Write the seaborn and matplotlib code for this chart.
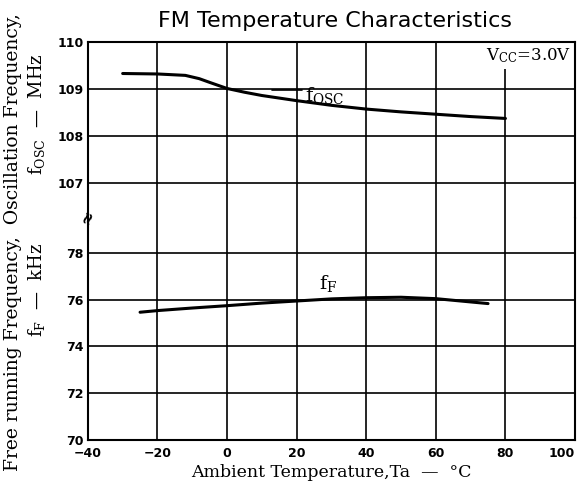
import matplotlib
matplotlib.use("Agg")
import matplotlib.pyplot as plt
import seaborn as sns

# Values
temp_osc = [-30, -20, -12, -8, -5, 0, 5, 10, 20, 30, 40, 50, 60, 70, 80]
f_osc = [109.33, 109.32, 109.29, 109.22, 109.14, 109.01, 108.93, 108.86, 108.75,
         108.65, 108.57, 108.51, 108.46, 108.41, 108.37]
temp_free = [-25, -20, -10, 0, 10, 20, 30, 40, 50, 60, 70, 75]
f_free = [75.46, 75.53, 75.64, 75.74, 75.85, 75.94, 76.03, 76.08, 76.1, 76.04, 75.9, 75.83]

x_ticks = [-40, -20, 0, 20, 40, 60, 80, 100]
x_labels = ["\u221240", "\u221220", "0", "20", "40", "60", "80", "100"]
osc_ticks = [107, 108, 109, 110]
free_ticks = [70, 72, 74, 76, 78]

sns.set_style("white")
plt.rcParams["font.family"] = ["DejaVu Sans"]
plt.rcParams["mathtext.fontset"] = "dejavuserif"
plt.rcParams["text.color"] = "black"
plt.rcParams["xtick.color"] = "black"
plt.rcParams["ytick.color"] = "black"

fig = plt.figure(figsize=(5.82, 4.9), dpi=100)
gs = fig.add_gridspec(2, 1, height_ratios=[3.75, 4.75], hspace=0,
                      left=0.151, right=0.988, top=0.914, bottom=0.102)
ax_top = fig.add_subplot(gs[0])
ax_bot = fig.add_subplot(gs[1], sharex=ax_top)

sns.lineplot(x=temp_osc, y=f_osc, ax=ax_top, color="black", lw=2.2)
sns.lineplot(x=temp_free, y=f_free, ax=ax_bot, color="black", lw=2.2)

for ax in (ax_top, ax_bot):
    ax.set_xlim(-40, 100)
    ax.set_xticks(x_ticks)
    for x in x_ticks:
        ax.axvline(x, color="black", lw=1.2, zorder=0)
    for s in ax.spines.values():
        s.set_color("black")
        s.set_linewidth(1.5)
        s.set_zorder(6)
    ax.tick_params(length=0, labelsize=9, pad=3)

ax_top.set_ylim(106.25, 110)
ax_top.set_yticks(osc_ticks)
ax_top.set_yticklabels([str(t) for t in osc_ticks], fontweight="bold")
for y in osc_ticks:
    ax_top.axhline(y, color="black", lw=1.2, zorder=0)
ax_top.spines["bottom"].set_visible(False)
ax_top.tick_params(axis="x", labelbottom=False)

ax_bot.set_ylim(70, 79.5)
ax_bot.set_yticks(free_ticks)
ax_bot.set_yticklabels([str(t) for t in free_ticks], fontweight="bold")
for y in free_ticks:
    ax_bot.axhline(y, color="black", lw=1.2, zorder=0)
ax_bot.spines["top"].set_visible(False)
ax_bot.tick_params(axis="x", pad=5)
ax_bot.set_xticklabels(x_labels, fontweight="bold")
ax_bot.get_xticklabels()[-1].set_horizontalalignment("right")

# curve labels
ax_top.plot([13, 21.5], [108.98, 108.98], color="black", lw=1.2)
ax_top.text(22.5, 108.86, r"f$_{\mathrm{OSC}}$", fontsize=14, family="DejaVu Serif",
            va="center", ha="left")
ax_bot.text(26.5, 76.7, r"f$_{\mathrm{F}}$", fontsize=14, family="DejaVu Serif",
            va="center", ha="left")
ax_top.text(98.8, 109.72, r"V$_{\mathrm{CC}}$=3.0V", fontsize=12, family="DejaVu Serif",
            ha="right", va="center", zorder=5,
            bbox=dict(facecolor="white", edgecolor="none", pad=3))

# axis break mark
fig.text(0.151, 1 - 217 / 490, "\u2248", fontsize=12, fontweight="bold", rotation=70,
         ha="center", va="center")

fig.text(0.576, 0.957, "FM Temperature Characteristics", fontsize=16,
         ha="center", va="center")
fig.text(0.57, 1 - 472 / 490, "Ambient Temperature,Ta  \u2014  \u00b0C",
         fontsize=12.5, family="DejaVu Serif", ha="center", va="center")
fig.text(0.022, 0.505, "Free running Frequency,  Oscillation Frequency,",
         fontsize=13.5, family="DejaVu Serif", rotation=90, ha="center", va="center")
fig.text(0.062, 1 - 114 / 490, "f$_{\\mathrm{OSC}}$  \u2014  MHz",
         fontsize=13, family="DejaVu Serif", rotation=90, ha="center", va="center")
fig.text(0.062, 1 - 290 / 490, "f$_{\\mathrm{F}}$  \u2014  kHz",
         fontsize=13, family="DejaVu Serif", rotation=90, ha="center", va="center")

fig.savefig("out.png", dpi=100)
